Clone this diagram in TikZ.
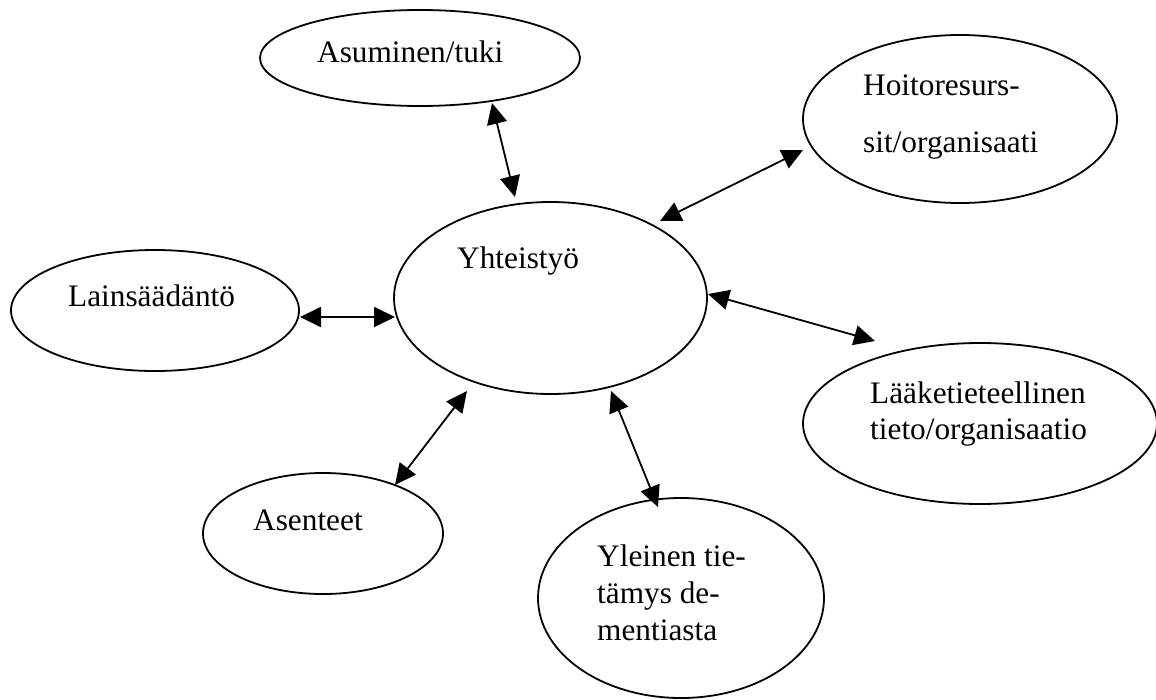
\documentclass[tikz,border=0pt]{standalone}
\usepackage{fontspec}
\setmainfont{Liberation Serif}
\usetikzlibrary{arrows.meta,shapes.geometric}
\begin{document}
\begin{tikzpicture}[x=1pt,y=-1pt,
  ell/.style={draw=black, line width=1.8pt, ellipse, inner sep=0pt},
  lbl/.style={anchor=base west, inner sep=0pt, font=\fontsize{31.3}{37}\selectfont},
  link/.style={line width=1.8pt, {Triangle[length=21pt,width=20pt]}-{Triangle[length=21pt,width=20pt]}}]
\useasboundingbox (0,0) rectangle (1156,699);
% ellipses
\node[ell, minimum width=320pt, minimum height=96pt]  (asu) at (420,58) {};
\node[ell, minimum width=314pt, minimum height=168pt] (hoi) at (960,119) {};
\node[ell, minimum width=313pt, minimum height=192pt] (yht) at (550.5,298) {};
\node[ell, minimum width=288pt, minimum height=121pt] (lai) at (155,310.5) {};
\node[ell, minimum width=354pt, minimum height=161pt] (laa) at (980,423.5) {};
\node[ell, minimum width=240pt, minimum height=121pt] (ase) at (323,533.5) {};
\node[ell, minimum width=286pt, minimum height=200pt] (yle) at (681,598) {};
% labels
\node[lbl] (tasu) at (317,62) {Asuminen/tuki};
\node[lbl] (thoi1) at (863,95) {Hoitoresurs-};
\node[lbl] (thoi2) at (863,152) {sit/organisaati};
\node[lbl] (tyht) at (457,268) {Yhteistyö};
\node[lbl] (tlai) at (68,306) {Lainsäädäntö};
\node[lbl] (tlaa1) at (870,403) {Lääketieteellinen};
\node[lbl] (tlaa2) at (870,439) {tieto/organisaatio};
\node[lbl] (tase) at (253,530) {Asenteet};
\node[lbl] (tyle1) at (597,566) {Yleinen tie-};
\node[lbl] (tyle2) at (597,603) {tämys de-};
\node[lbl] (tyle3) at (597,640) {mentiasta};
% connector end points
\coordinate (asuE) at (492,103);  \coordinate (yhtA) at (515,197);
\coordinate (hoiE) at (803,150);  \coordinate (yhtH) at (660,221);
\coordinate (laiE) at (300,317);  \coordinate (yhtL) at (395,317);
\coordinate (laaE) at (875,341);  \coordinate (yhtM) at (708,294);
\coordinate (aseE) at (395,485);  \coordinate (yhtS) at (467,391);
\coordinate (yleE) at (658,507);  \coordinate (yhtY) at (611,391);
% connectors
\draw[link] (asuE) -- (yhtA);
\draw[link] (hoiE) -- (yhtH);
\draw[link] (laiE) -- (yhtL);
\draw[link] (laaE) -- (yhtM);
\draw[link] (aseE) -- (yhtS);
\draw[link] (yleE) -- (yhtY);
\end{tikzpicture}
\end{document}
